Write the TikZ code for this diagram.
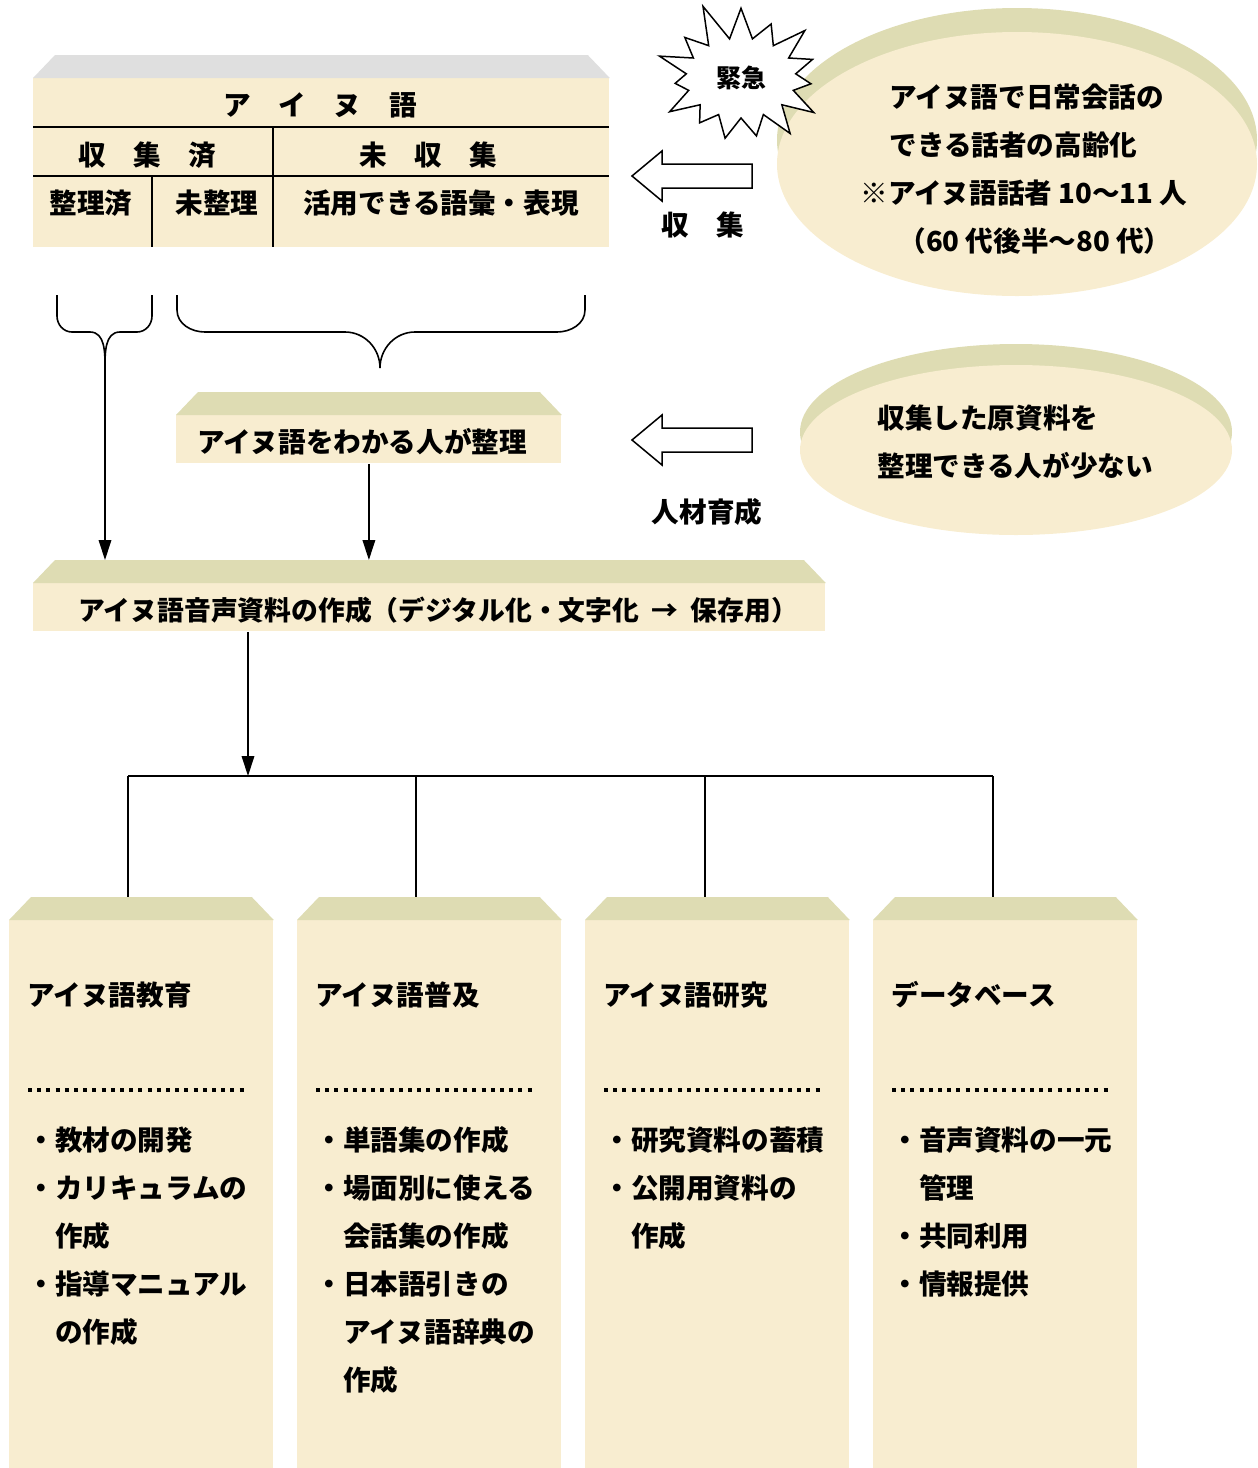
\documentclass[tikz,border=0pt]{standalone}
\usepackage{fontspec}
\setmainfont{Noto Sans CJK JP}[BoldFont={Noto Sans CJK JP Black}]
\usepackage{tikz}
\usetikzlibrary{arrows.meta, shapes.symbols}
\definecolor{paper}{HTML}{F8EDD0}
\definecolor{olive}{HTML}{DEDCB3}
\definecolor{greytop}{HTML}{DFDFDF}
\tikzset{> = { Triangle[length = 3.5mm, width = 2.2mm] }}
\tikzset{
	face/.style = { fill = paper, inner sep = 0pt, anchor = north west },
	txt/.style = { font = \bfseries\fontsize{13.8}{24}\selectfont, inner sep = 0pt },
	wire/.style = { line width = 0.8pt },
	dots/.style = { line width = 2pt, dash pattern = on 2pt off 2.6pt },
	hollow/.style = { draw, fill = white, line width = 0.75pt },
}
\def\px{0.5pt}
% bevel strip on top of a box
\newcommand{\bevel}[2][olive]{
	\fill[#1] (#2.north west) -- ++(22, -23) -- ([shift = {(-22, -23)}]#2.north east) -- (#2.north east) -- cycle;
}

\begin{document}
\begin{tikzpicture}[x = 0.5pt, y = -0.5pt]
	\useasboundingbox (0, 0) rectangle (1258, 1468);

	% Table of the language.
	\node[face, minimum width = 576*\px, minimum height = 169*\px] (lang) at (33, 78) {};
	\bevel[greytop]{lang}
	\draw[wire] (33, 127) -- (609, 127);
	\draw[wire] (33, 176) -- (609, 176);
	\draw[wire] (273, 127) -- (273, 247);
	\draw[wire] (152, 176) -- (152, 247);
	\node[txt] (langname) at (320, 105) {ア　イ　ヌ　語};
	\node[txt] (done) at (147, 155) {収　集　済};
	\node[txt] (todo) at (428, 155) {未　収　集};
	\node[txt] (sorted) at (91, 203) {整理済};
	\node[txt] (unsorted) at (217, 203) {未整理};
	\node[txt] (vocab) at (441, 203) {活用できる語彙・表現};

	% Braces.
	\coordinate (tipA) at (105, 368);
	\coordinate (tipB) at (380, 368);
	\draw[wire] (57, 295) -- (57, 316) to[out = -90, in = 180] (72, 332) -- (90, 332)
		to[out = 0, in = 90] (tipA);
	\draw[wire] (152, 295) -- (152, 316) to[out = -90, in = 0] (137, 332) -- (120, 332)
		to[out = 180, in = 90] (tipA);
	\draw[wire] (177, 295) -- (177, 310) to[out = -90, in = 180] (205, 332) -- (345, 332)
		to[out = 0, in = 90] (tipB);
	\draw[wire] (585, 295) -- (585, 310) to[out = -90, in = 0] (557, 332) -- (415, 332)
		to[out = 180, in = 90] (tipB);

	% Middle boxes.
	\node[face, minimum width = 385*\px, minimum height = 48*\px] (sort) at (176, 415) {};
	\bevel{sort}
	\node[txt] (sorttext) at (362, 442) {アイヌ語をわかる人が整理};

	\node[face, minimum width = 792*\px, minimum height = 48*\px] (audio) at (33, 583) {};
	\bevel{audio}
	\node[txt, anchor = west, font = \bfseries\fontsize{13.4}{24}\selectfont] (audiotext) at (78, 610)
		{アイヌ語音声資料の作成（デジタル化・文字化 \ → \ 保存用）};
	\coordinate (audiotop) at ([yshift = 11.5pt]audio.north);

	\draw[wire, ->] (tipA) -- (tipA |- audiotop);
	\draw[wire, ->] (sort.south) -- (sort.south |- audiotop);

	% Speakers are getting old.
	\fill[olive] (1017, 140) ellipse [x radius = 240, y radius = 132];
	\fill[paper] (1017, 164) ellipse [x radius = 240, y radius = 132];
	\node[txt, anchor = west] (old1) at (889, 97) {アイヌ語で日常会話の};
	\node[txt, anchor = west] (old2) at (889, 145) {できる話者の高齢化};
	\node[txt, anchor = west] (old3) at (860, 193) {※アイヌ語話者 10〜11 人};
	\node[txt, anchor = west] (old4) at (898, 241) {（60 代後半〜80 代）};

	\node[starburst, draw, fill = white, line width = 0.75pt, starburst points = 15,
		starburst point height = 20pt, random starburst = 11,
		minimum width = 95pt, minimum height = 80pt, inner sep = 0pt,
		font = \bfseries\fontsize{12.5}{14}\selectfont] (urgent) at (741, 78) {緊急};

	% Few people who can sort.
	\fill[olive] (1016, 432) ellipse [x radius = 216, y radius = 88];
	\fill[paper] (1016, 450) ellipse [x radius = 216, y radius = 85];
	\node[txt, anchor = west] (few1) at (877, 418) {収集した原資料を};
	\node[txt, anchor = west] (few2) at (877, 466) {整理できる人が少ない};

	% Block arrows.
	\coordinate (gather) at (632, 176);
	\draw[hollow] (gather) -- ++(30, -25) -- ++(0, 13) -- ++(90, 0) -- ++(0, 24)
		-- ++(-90, 0) -- ++(0, 13) -- cycle;
	\node[txt] (gathertext) at (703, 225) {収　集};

	\coordinate (train) at (632, 440);
	\draw[hollow] (train) -- ++(30, -25) -- ++(0, 13) -- ++(90, 0) -- ++(0, 24)
		-- ++(-90, 0) -- ++(0, 13) -- cycle;
	\node[txt] (traintext) at (707, 512) {人材育成};

	% Four uses.
	\node[face, minimum width = 264*\px, minimum height = 548*\px] (edu) at (9, 920) {};
	\node[face, minimum width = 264*\px, minimum height = 548*\px] (spread) at (297, 920) {};
	\node[face, minimum width = 264*\px, minimum height = 548*\px] (study) at (585, 920) {};
	\node[face, minimum width = 264*\px, minimum height = 548*\px] (base) at (873, 920) {};
	\bevel{edu}
	\bevel{spread}
	\bevel{study}
	\bevel{base}

	\coordinate (busL) at (128, 776);
	\coordinate (busR) at (993, 776);
	\draw[wire, ->] ([xshift = 107.5pt]audio.south west) -- ([xshift = 107.5pt]audio.south west |- busL);
	\draw[wire] (busL) -- (busR);
	\draw[wire] (busL) -- ++(0, 121);
	\draw[wire] (416, 776) -- ++(0, 121);
	\draw[wire] (705, 776) -- ++(0, 121);
	\draw[wire] (busR) -- ++(0, 121);

	\node[txt, anchor = west] (edutitle) at ([shift = {(18, 75)}]edu.north west) {アイヌ語教育};
	\node[txt, anchor = west] (spreadtitle) at ([shift = {(18, 75)}]spread.north west) {アイヌ語普及};
	\node[txt, anchor = west] (studytitle) at ([shift = {(18, 75)}]study.north west) {アイヌ語研究};
	\node[txt, anchor = west] (basetitle) at ([shift = {(18, 75)}]base.north west) {データベース};

	\draw[dots] ([shift = {(19, 170)}]edu.north west) -- ++(220, 0);
	\draw[dots] ([shift = {(19, 170)}]spread.north west) -- ++(220, 0);
	\draw[dots] ([shift = {(19, 170)}]study.north west) -- ++(220, 0);
	\draw[dots] ([shift = {(19, 170)}]base.north west) -- ++(220, 0);

	\node[txt, anchor = north west, align = left] (eduitems) at ([shift = {(18, 206)}]edu.north west)
		{・教材の開発\\・カリキュラムの\\　作成\\・指導マニュアル\\　の作成};
	\node[txt, anchor = north west, align = left] (spreaditems) at ([shift = {(18, 206)}]spread.north west)
		{・単語集の作成\\・場面別に使える\\　会話集の作成\\・日本語引きの\\　アイヌ語辞典の\\　作成};
	\node[txt, anchor = north west, align = left] (studyitems) at ([shift = {(18, 206)}]study.north west)
		{・研究資料の蓄積\\・公開用資料の\\　作成};
	\node[txt, anchor = north west, align = left] (baseitems) at ([shift = {(18, 206)}]base.north west)
		{・音声資料の一元\\　管理\\・共同利用\\・情報提供};
\end{tikzpicture}
\end{document}
